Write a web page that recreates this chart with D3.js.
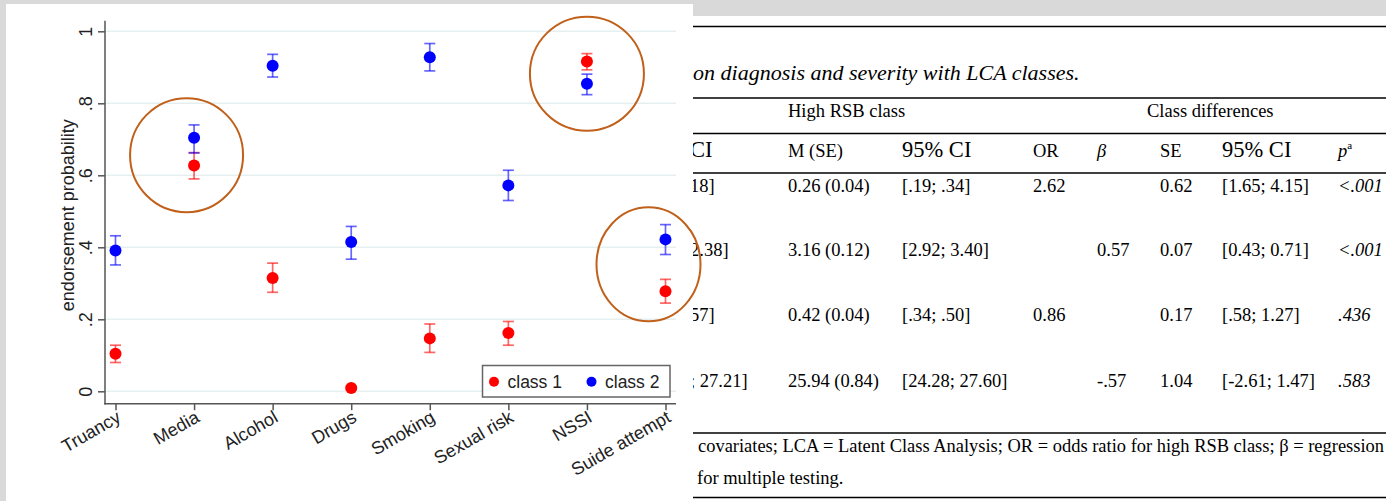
<!DOCTYPE html>
<html>
<head>
<meta charset="utf-8">
<script src="https://cdn.jsdelivr.net/npm/d3@7"></script>
<style>
  html, body { margin: 0; padding: 0; background: #d9d9d9; }
  svg { display: block; }
</style>
</head>
<body>
<svg id="fig" width="1386" height="501"></svg>
<script>
// ---- Latent class endorsement probabilities ----
const categories = ["Truancy", "Media", "Alcohol", "Drugs", "Smoking", "Sexual risk", "NSSI", "Suide attempt"];
const class1Prob = [0.104, 0.627, 0.315, 0.009, 0.147, 0.162, 0.916, 0.278];
const class1Low  = [0.080, 0.590, 0.275, 0.004, 0.108, 0.128, 0.893, 0.245];
const class1High = [0.128, 0.663, 0.356, 0.014, 0.187, 0.194, 0.938, 0.311];
const class2Prob = [0.391, 0.704, 0.904, 0.415, 0.928, 0.572, 0.854, 0.422];
const class2Low  = [0.351, 0.662, 0.873, 0.367, 0.890, 0.530, 0.824, 0.380];
const class2High = [0.432, 0.740, 0.936, 0.458, 0.966, 0.614, 0.881, 0.463];
const seriesNames = ["class 1", "class 2"];
const yTicks = [0, 0.2, 0.4, 0.6, 0.8, 1];
const yTickLabels = ["0", ".2", ".4", ".6", ".8", "1"];
const yTitle = "endorsement probability";
const highlighted = ["Media", "NSSI", "Suide attempt"];

// ---- Table beside the figure ----
const tableTitle = "ion diagnosis and severity with LCA classes.";
const groupHeaders = ["High RSB class", "Class differences"];
const colHeaders = ["CI", "M (SE)", "95% CI", "OR", "β", "SE", "95% CI", "p"];
const colLeadCut = ["18]", "2.38]", "57]", "; 27.21]"];
const colMeanSE  = ["0.26 (0.04)", "3.16 (0.12)", "0.42 (0.04)", "25.94 (0.84)"];
const colCI      = ["[.19; .34]", "[2.92; 3.40]", "[.34; .50]", "[24.28; 27.60]"];
const colOR      = ["2.62", "", "0.86", ""];
const colBeta    = ["", "0.57", "", "-.57"];
const colSE      = ["0.62", "0.07", "0.17", "1.04"];
const colDiffCI  = ["[1.65; 4.15]", "[0.43; 0.71]", "[.58; 1.27]", "[-2.61; 1.47]"];
const colP       = ["<.001", "<.001", ".436", ".583"];
const footnotes  = ["covariates; LCA = Latent Class Analysis; OR = odds ratio for high RSB class; β = regression", "for multiple testing."];

const svg = d3.select("#fig");
const W = 1386, H = 501;

// background panels
svg.append("rect").attr("x", 0).attr("y", 0).attr("width", W).attr("height", H).attr("fill", "#d9d9d9");

// ================= table =================
const tbl = svg.append("g");
tbl.append("rect").attr("x", 693).attr("y", 16).attr("width", W - 693).attr("height", H - 16).attr("fill", "#fff");
const serif = "'Liberation Serif', 'Times New Roman', serif";
const ruleYs = [26.5, 98, 133.5, 173, 433, 497.5];
tbl.selectAll("line.rule").data(ruleYs).join("line")
  .attr("x1", 693).attr("x2", W).attr("y1", d => d).attr("y2", d => d)
  .attr("stroke", "#000").attr("stroke-width", 1.6);

function tText(x, y, s, size, italic) {
  return tbl.append("text").attr("x", x).attr("y", y).text(s)
    .attr("font-family", serif).attr("font-size", size)
    .attr("font-style", italic ? "italic" : "normal").attr("fill", "#000");
}
tText(687, 80, tableTitle, 22, true);
tText(788, 117, groupHeaders[0], 18.5);
tText(1147, 117, groupHeaders[1], 18.5);

const colX = [690, 788, 902, 1033, 1097, 1160, 1222, 1338];
const headSize = [22.5, 18.5, 22.5, 18.5, 18.5, 18.5, 22.5, 18.5];
const headItalic = [false, false, false, false, true, false, false, true];
colHeaders.forEach((h, i) => {
  const t = tText(colX[i], 157, h, headSize[i], headItalic[i]);
  if (i === 7) t.append("tspan").attr("font-style", "normal").attr("font-size", 11).attr("dy", -8).text("a");
});

const rowY = [192, 256, 321, 387];
const columns = [colLeadCut, colMeanSE, colCI, colOR, colBeta, colSE, colDiffCI, colP];
columns.forEach((col, ci) => {
  col.forEach((v, ri) => {
    if (v !== "") tText(colX[ci], rowY[ri], v, 18.5, ci === 7);
  });
});
tText(698, 452, footnotes[0], 18.5)
  .attr("textLength", W - 698 - 2).attr("lengthAdjust", "spacingAndGlyphs");
tText(697, 484, footnotes[1], 18.5);

// ================= chart =================
svg.append("rect").attr("x", 6).attr("y", 4).attr("width", 687).attr("height", H - 4).attr("fill", "#fff");
const sans = "'Liberation Sans', Arial, Helvetica, sans-serif";

const plot = { left: 105, right: 676, top: 20.7, axisY: 403.7 };
const x = d3.scalePoint().domain(categories).range([115.5, 665.5]);
const y = d3.scaleLinear().domain([0, 1]).range([391.3, 31.3]);

const g = svg.append("g");

// gridlines
g.selectAll("line.grid").data(yTicks).join("line")
  .attr("x1", plot.left).attr("x2", plot.right)
  .attr("y1", d => y(d)).attr("y2", d => y(d))
  .attr("stroke", "#e6eff0").attr("stroke-width", 1.5);

// y axis
const yAxis = g.append("g").attr("transform", `translate(${plot.left},0)`)
  .call(d3.axisLeft(y).tickValues(yTicks).tickFormat((d, i) => yTickLabels[i]).tickSize(7));
yAxis.select(".domain").remove();
yAxis.selectAll(".tick line").attr("stroke", "#555").attr("stroke-width", 1.5);
yAxis.selectAll(".tick text")
  .attr("x", null).attr("dy", null).attr("text-anchor", "middle")
  .attr("transform", "translate(-13,0) rotate(-90)")
  .attr("font-family", sans).attr("font-size", 18).attr("fill", "#222");
g.append("line").attr("x1", plot.left).attr("x2", plot.left)
  .attr("y1", plot.top).attr("y2", plot.axisY + 0.75)
  .attr("stroke", "#555").attr("stroke-width", 1.5);

// x axis
const xAxis = g.append("g").attr("transform", `translate(0,${plot.axisY})`)
  .call(d3.axisBottom(x).tickSize(6.5));
xAxis.select(".domain").remove();
xAxis.selectAll(".tick line").attr("stroke", "#555").attr("stroke-width", 1.5);
xAxis.selectAll(".tick text")
  .attr("y", null).attr("dy", null).attr("text-anchor", "end")
  .attr("transform", "translate(6,17) rotate(-30)")
  .attr("font-family", sans).attr("font-size", 18).attr("fill", "#222");
g.append("line").attr("x1", plot.left - 0.75).attr("x2", plot.right)
  .attr("y1", plot.axisY).attr("y2", plot.axisY)
  .attr("stroke", "#555").attr("stroke-width", 1.5);

// y title
g.append("text").attr("transform", `translate(74,${(y(0) + y(1)) / 2 + 4}) rotate(-90)`)
  .attr("text-anchor", "middle").attr("font-family", sans).attr("font-size", 18)
  .attr("fill", "#222").text(yTitle);

// estimates with 95% intervals
const series = [
  { name: seriesNames[0], color: "#ff0000", p: class1Prob, lo: class1Low, hi: class1High },
  { name: seriesNames[1], color: "#0000ff", p: class2Prob, lo: class2Low, hi: class2High }
];
const cap = 5.5;
series.forEach(s => {
  const pts = categories.map((c, i) => ({ c, p: s.p[i], lo: s.lo[i], hi: s.hi[i] }));
  const eg = g.append("g").attr("stroke", s.color).attr("stroke-opacity", 0.6).attr("stroke-width", 1.7);
  eg.selectAll("line.v").data(pts).join("line")
    .attr("x1", d => x(d.c)).attr("x2", d => x(d.c)).attr("y1", d => y(d.lo)).attr("y2", d => y(d.hi));
  eg.selectAll("line.lo").data(pts).join("line")
    .attr("x1", d => x(d.c) - cap).attr("x2", d => x(d.c) + cap).attr("y1", d => y(d.lo)).attr("y2", d => y(d.lo));
  eg.selectAll("line.hi").data(pts).join("line")
    .attr("x1", d => x(d.c) - cap).attr("x2", d => x(d.c) + cap).attr("y1", d => y(d.hi)).attr("y2", d => y(d.hi));
  g.append("g").selectAll("circle").data(pts).join("circle")
    .attr("cx", d => x(d.c)).attr("cy", d => y(d.p)).attr("r", 6).attr("fill", s.color);
});

// legend
const lg = g.append("g").attr("transform", "translate(482.5,365.5)");
lg.append("rect").attr("width", 187.5).attr("height", 31.5).attr("fill", "#fff")
  .attr("stroke", "#666").attr("stroke-width", 1.5);
series.forEach((s, i) => {
  const off = 11.5 + i * 97.5;
  lg.append("circle").attr("cx", off).attr("cy", 16.2).attr("r", 5).attr("fill", s.color);
  lg.append("text").attr("x", off + 13.5).attr("y", 22.8).attr("font-family", sans)
    .attr("font-size", 17.5).attr("fill", "#222").text(s.name);
});

// highlight rings around categories where the classes are close
const ringLayout = { "Media": { dx: -7.5, dy: 3.5, rx: 56.5, ry: 57 },
                     "NSSI": { dx: 0, dy: 1, rx: 57, ry: 57 },
                     "Suide attempt": { dx: -17, dy: -1, rx: 52, ry: 57 } };
svg.append("g").selectAll("ellipse").data(highlighted).join("ellipse")
  .attr("cx", c => x(c) + ringLayout[c].dx)
  .attr("cy", c => { const i = categories.indexOf(c); return y((class1Prob[i] + class2Prob[i]) / 2) + ringLayout[c].dy; })
  .attr("rx", c => ringLayout[c].rx).attr("ry", c => ringLayout[c].ry)
  .attr("fill", "none").attr("stroke", "#c0601a").attr("stroke-width", 2);
</script>
</body>
</html>
